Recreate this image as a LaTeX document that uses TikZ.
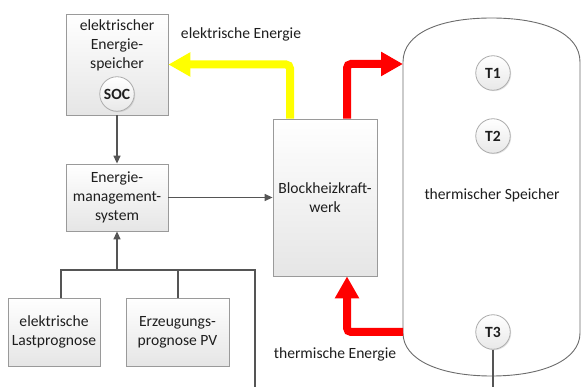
\documentclass[tikz,border=0pt]{standalone}
\usepackage{fontspec}
\setmainfont{Carlito}
\usetikzlibrary{arrows.meta,shadows,calc}
\definecolor{txt}{HTML}{1E1E1E}
\definecolor{boxline}{HTML}{9A9A9A}
\definecolor{conn}{HTML}{555555}
\definecolor{eyellow}{HTML}{FFFF00}
\definecolor{ered}{HTML}{FF0000}
\begin{document}
\begin{tikzpicture}[x=1pt,y=-1pt,
  font=\fontsize{15.6}{19}\selectfont, text=txt,
  box/.style={draw=boxline, line width=0.8pt, top color=white, bottom color=gray!20,
    drop shadow={shadow xshift=1.3pt,shadow yshift=-1.3pt,opacity=0.25}, inner sep=0pt, align=center},
  sensor/.style={circle, draw=gray!65, line width=0.8pt, top color=white, bottom color=gray!18,
    drop shadow={shadow xshift=1pt,shadow yshift=-1pt,opacity=0.2},
    minimum size=34.5pt, inner sep=0pt, font=\fontsize{15.6}{18}\selectfont\bfseries},
  label/.style={align=center, inner sep=0pt},
  thin/.style={draw=conn, line width=1.4pt},
  thinarrow/.style={thin, -{Triangle[length=8pt,width=7pt]}},
  energy/.style={line width=8pt, rounded corners=4pt, -{Triangle[length=22pt,width=23pt]}},
]
\useasboundingbox (0,0) rectangle (581,387);

% thermal storage
\draw[draw=gray!85!black, line width=0.9pt, fill=white]
  (403,62) .. controls (403,33) and (440,18) .. (491.5,18)
  .. controls (543,18) and (580,33) .. (580,62) -- (580,333)
  .. controls (580,360) and (543,376) .. (491.5,376)
  .. controls (440,376) and (403,360) .. (403,333) -- cycle;
\coordinate (tsin) at (403,64);
\coordinate (tsout) at (403,332);
\node[label] (tslabel) at (492,195) {thermischer Speicher};
\node[sensor] (t1) at (493,73) {T1};
\node[sensor] (t2) at (493,136) {T2};
\node[sensor] (t3) at (493,332) {T3};
\coordinate (t3end) at (493,390);
\draw[thin] (t3.south) -- (t3end);

% boxes
\node[box, minimum width=102pt, minimum height=101pt] (esp) at (117,64.5) {};
\node[label] (esptext) at (117,45) {elektrischer\\Energie-\\speicher};
\node[sensor] (soc) at (117,94) {SOC};
\node[box, minimum width=102pt, minimum height=67pt] (ems) at (117,197.5) {Energie-\\management-\\system};
\node[box, minimum width=104pt, minimum height=157pt] (bhkw) at (325,197.5) {Blockheizkraft-\\werk};
\node[box, minimum width=92pt, minimum height=68pt] (lp) at (54,332) {elektrische\\Lastprognose};
\node[box, minimum width=103pt, minimum height=68pt] (ep) at (177.5,332) {Erzeugungs-\\prognose PV};

% thin connectors
\draw[thinarrow] (esp.south) -- (ems.north);
\draw[thinarrow] (ems.east) -- (bhkw.west);
\coordinate (bus) at (117,270);
\coordinate (busR) at (255,270);
\coordinate (busEnd) at (255,390);
\draw[thin] ([xshift=7pt]lp.north) |- (busR) -- (busEnd);
\draw[thin] ([xshift=0.5pt]ep.north) -- ([xshift=0.5pt]ep.north |- bus);
\draw[thinarrow] (bus) -- (ems.south);

% energy flows
\draw[energy, draw=eyellow] ([xshift=-35pt]bhkw.north) |- (esp.east);
\draw[energy, draw=ered] ([xshift=22pt]bhkw.north) |- (tsin);
\draw[energy, draw=ered] (tsout) -| ([xshift=22pt]bhkw.south);

\node[label] (elab) at (241,34) {elektrische Energie};
\node[label] (tlab) at (335,354) {thermische Energie};
\end{tikzpicture}
\end{document}
